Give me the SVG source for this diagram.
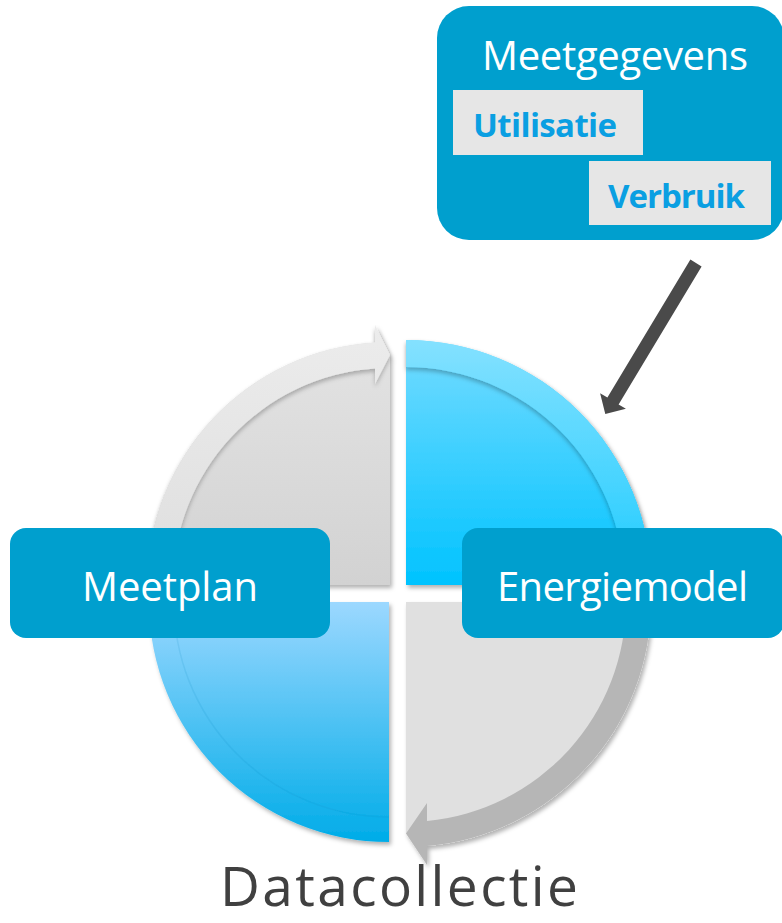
<svg xmlns="http://www.w3.org/2000/svg" width="782" height="923" viewBox="0 0 782 923">
  <defs>
    <linearGradient id="gTLbody" x1="0" y1="0" x2="0" y2="1">
      <stop offset="0" stop-color="#e3e3e3"/>
      <stop offset="1" stop-color="#d2d2d2"/>
    </linearGradient>
    <linearGradient id="gTLband" x1="0" y1="0" x2="0" y2="1">
      <stop offset="0" stop-color="#ececec"/>
      <stop offset="1" stop-color="#dedede"/>
    </linearGradient>
    <linearGradient id="gTR" x1="0" y1="0" x2="0" y2="1">
      <stop offset="0" stop-color="#74dbff"/>
      <stop offset="1" stop-color="#00c3ff"/>
    </linearGradient>
    <linearGradient id="gTRband" x1="0" y1="0" x2="0" y2="1">
      <stop offset="0" stop-color="#84e1ff"/>
      <stop offset="1" stop-color="#1ccbff"/>
    </linearGradient>
    <linearGradient id="gBL" x1="0" y1="0" x2="0" y2="1">
      <stop offset="0" stop-color="#9cd8ff"/>
      <stop offset="1" stop-color="#00ace8"/>
    </linearGradient>
    <filter id="shadow" x="-10%" y="-10%" width="130%" height="130%">
      <feDropShadow dx="2" dy="3" stdDeviation="2" flood-color="#000" flood-opacity="0.3"/>
    </filter>
    <filter id="bandShadow" x="-10%" y="-10%" width="130%" height="130%">
      <feDropShadow dx="0" dy="3" stdDeviation="2" flood-color="#000" flood-opacity="0.25"/>
    </filter>
  </defs>
  <style>
    .box { fill: #009fce; }
    .boxText { font-family: "Open Sans", "Noto Sans", sans-serif; fill: #ffffff; font-size: 40px; }
    .tag { fill: #e6e6e6; }
    .tagText { font-family: "Open Sans", "Noto Sans", sans-serif; font-weight: bold; fill: #0a9fe2; font-size: 33px; }
    .title { font-family: "Open Sans", "Noto Sans", sans-serif; fill: #404040; font-size: 55px; }
  </style>

  <g id="quadrant-top-left" filter="url(#shadow)">
    <path d="M390,585 L147,585 A243,243 0 0 1 375,342.5 L390,355 Z" fill="url(#gTLbody)"/>
    <path d="M147,585 A243,243 0 0 1 375,342.5 L375,325 L390,355 L375,384 L375,368.5 A217,217 0 0 0 173,585 Z" fill="url(#gTLband)" filter="url(#bandShadow)"/>
  </g>

  <g id="quadrant-top-right" filter="url(#shadow)">
    <path d="M406,585 L406,340 A245,245 0 0 1 651,585 Z" fill="url(#gTR)"/>
    <path d="M406,340 A245,245 0 0 1 651,585 L624,585 A218,218 0 0 0 406,367 Z" fill="url(#gTRband)" filter="url(#bandShadow)"/>
  </g>

  <g id="quadrant-bottom-left" filter="url(#shadow)">
    <path d="M389,602 L389,842 A240,240 0 0 1 149,602 Z" fill="url(#gBL)"/>
    <path d="M389,817 A215,215 0 0 1 174,602" fill="none" stroke="#0080c0" stroke-opacity="0.12" stroke-width="1.5"/>
  </g>

  <g id="quadrant-bottom-right" filter="url(#shadow)">
    <path d="M406,602 L651,602 A245,245 0 0 1 427,846 L406,833.5 Z" fill="#e0e0e0"/>
    <path d="M651,602 A245,245 0 0 1 427,846 L427,865 L406,833.5 L427,803 L427,821 A220,220 0 0 0 626,602 Z" fill="#b6b6b6"/>
  </g>

  <g id="node-meetplan">
    <rect class="box" x="10" y="528" width="320" height="110" rx="16"/>
    <text class="boxText" x="170" y="601" text-anchor="middle" textLength="176">Meetplan</text>
  </g>

  <g id="node-energiemodel">
    <rect class="box" x="462" y="528" width="322" height="110" rx="16"/>
    <text class="boxText" x="497" y="601" textLength="251">Energiemodel</text>
  </g>

  <g id="node-meetgegevens">
    <rect class="box" x="437" y="6" width="347" height="234" rx="32"/>
    <text class="boxText" x="482" y="70" font-size="39" textLength="266">Meetgegevens</text>
    <rect class="tag" x="453" y="90" width="190" height="65"/>
    <text class="tagText" x="473" y="137" textLength="144">Utilisatie</text>
    <rect class="tag" x="589" y="161" width="182" height="64"/>
    <text class="tagText" x="608" y="208" textLength="137">Verbruik</text>
  </g>

  <g id="connectors">
    <polygon points="690.4,259.6 701.6,266.4 618.6,404.4 625.9,408.7 605.3,413.9 600.1,393.3 607.4,397.6" fill="#4a4a4a"/>
  </g>

  <g id="label-datacollectie">
    <text class="title" x="220" y="906" textLength="358">Datacollectie</text>
  </g>
</svg>
